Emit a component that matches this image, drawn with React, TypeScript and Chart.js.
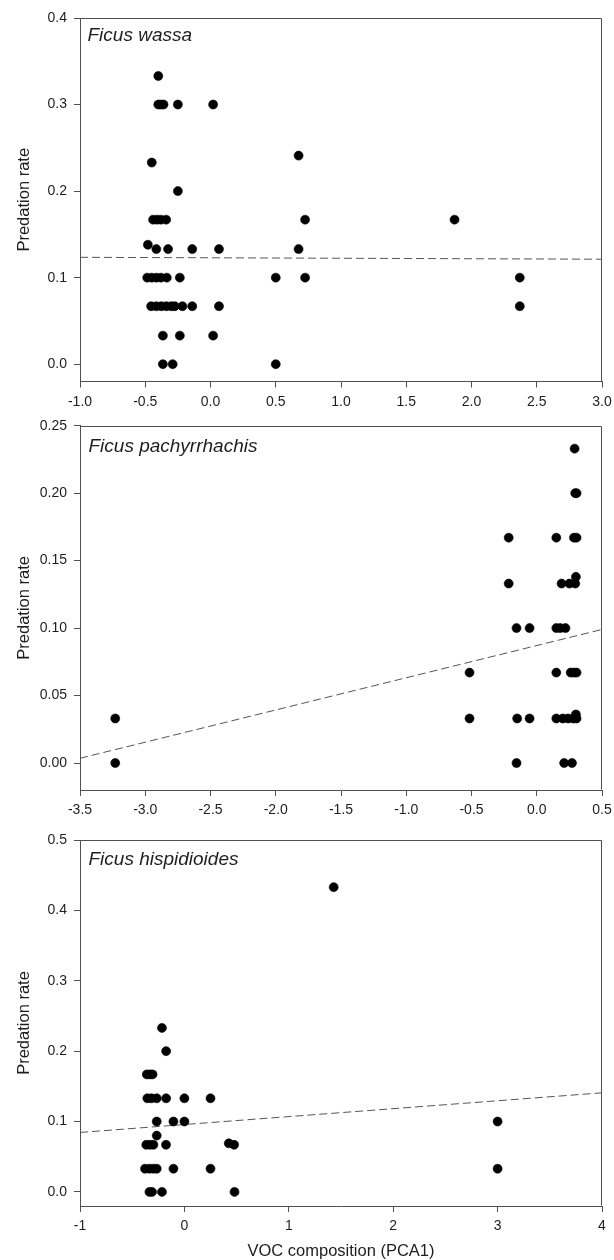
import React, { useEffect, useRef } from "react";
import { Chart, registerables } from "chart.js";
Chart.register(...registerables);

// ---------- data ----------
const speciesNames = ["Ficus wassa", "Ficus pachyrrhachis", "Ficus hispidioides"];
const xAxisTitle = "VOC composition (PCA1)";
const yAxisTitle = "Predation rate";

const wassaX = [
  -0.40,
  -0.40, -0.38, -0.36, -0.25, 0.02,
  -0.45,
  0.675,
  -0.25,
  -0.44, -0.41, -0.38, -0.34, 0.725, 1.87,
  -0.48,
  -0.415, -0.325, -0.14, 0.065, 0.675,
  -0.485, -0.45, -0.415, -0.38, -0.335, -0.235, 0.50, 0.725, 2.37,
  -0.455, -0.415, -0.377, -0.338, -0.30, -0.274, -0.215, -0.14, 0.065, 2.37,
  -0.365, -0.235, 0.02,
  -0.365, -0.29, 0.50,
];
const wassaY = [
  0.333,
  0.3, 0.3, 0.3, 0.3, 0.3,
  0.233,
  0.241,
  0.2,
  0.167, 0.167, 0.167, 0.167, 0.167, 0.167,
  0.138,
  0.133, 0.133, 0.133, 0.133, 0.133,
  0.1, 0.1, 0.1, 0.1, 0.1, 0.1, 0.1, 0.1, 0.1,
  0.067, 0.067, 0.067, 0.067, 0.067, 0.067, 0.067, 0.067, 0.067, 0.067,
  0.033, 0.033, 0.033,
  0, 0, 0,
];
const wassaFitX = [-1, 3];
const wassaFitY = [0.1235, 0.1213];
const wassaXTicks = [-1, -0.5, 0, 0.5, 1, 1.5, 2, 2.5, 3];
const wassaYTicks = [0, 0.1, 0.2, 0.3, 0.4];

const pachyX = [
  0.29,
  0.295, 0.305,
  -0.215, 0.15, 0.285, 0.305,
  0.30,
  -0.215, 0.19, 0.25, 0.295,
  -0.155, -0.055, 0.15, 0.18, 0.22,
  -0.515, 0.15, 0.26, 0.285, 0.305,
  0.30,
  -3.23, -0.515, -0.15, -0.055, 0.15, 0.20, 0.24, 0.28, 0.305,
  -3.23, -0.155, 0.21, 0.27,
];
const pachyY = [
  0.233,
  0.2, 0.2,
  0.167, 0.167, 0.167, 0.167,
  0.138,
  0.133, 0.133, 0.133, 0.133,
  0.1, 0.1, 0.1, 0.1, 0.1,
  0.067, 0.067, 0.067, 0.067, 0.067,
  0.036,
  0.033, 0.033, 0.033, 0.033, 0.033, 0.033, 0.033, 0.033, 0.033,
  0, 0, 0, 0,
];
const pachyFitX = [-3.5, 0.5];
const pachyFitY = [0.0035, 0.099];
const pachyXTicks = [-3.5, -3, -2.5, -2, -1.5, -1, -0.5, 0, 0.5];
const pachyYTicks = [0, 0.05, 0.1, 0.15, 0.2, 0.25];

const hispX = [
  1.43,
  -0.215,
  -0.175,
  -0.36, -0.33, -0.305,
  -0.355, -0.315, -0.265, -0.175, 0.0, 0.25,
  -0.265, -0.105, 0.0, 3.0,
  -0.265,
  0.425,
  -0.365, -0.33, -0.297, -0.176, 0.476,
  -0.377, -0.335, -0.297, -0.265, -0.105, 0.25, 3.0,
  -0.335, -0.31, -0.215, 0.48,
];
const hispY = [
  0.433,
  0.233,
  0.2,
  0.167, 0.167, 0.167,
  0.133, 0.133, 0.133, 0.133, 0.133, 0.133,
  0.1, 0.1, 0.1, 0.1,
  0.08,
  0.069,
  0.067, 0.067, 0.067, 0.067, 0.067,
  0.033, 0.033, 0.033, 0.033, 0.033, 0.033, 0.033,
  0, 0, 0, 0,
];
const hispFitX = [-1, 4];
const hispFitY = [0.0845, 0.1408];
const hispXTicks = [-1, 0, 1, 2, 3, 4];
const hispYTicks = [0, 0.1, 0.2, 0.3, 0.4, 0.5];

// ---------- layout / style ----------
const FONT = '"Liberation Sans", Arial, Helvetica, sans-serif';
const AXIS = "#505050";
const TEXT = "#1e1e1e";
const W = 614;

const panels = [
  {
    name: speciesNames[0], xs: wassaX, ys: wassaY, fx: wassaFitX, fy: wassaFitY,
    xTicks: wassaXTicks, yTicks: wassaYTicks, xMin: -1, xMax: 3, yMin: -0.02, yMax: 0.4,
    xDec: 1, yDec: 1, top: 0, height: 410, areaTop: 18, areaBottom: 381.5,
    labelDx: 7.5, labelDy: 22.5, showXTitle: false,
  },
  {
    name: speciesNames[1], xs: pachyX, ys: pachyY, fx: pachyFitX, fy: pachyFitY,
    xTicks: pachyXTicks, yTicks: pachyYTicks, xMin: -3.5, xMax: 0.5, yMin: -0.02, yMax: 0.25,
    xDec: 1, yDec: 2, top: 410, height: 420, areaTop: 15.7, areaBottom: 380,
    labelDx: 8.5, labelDy: 26.5, showXTitle: false,
  },
  {
    name: speciesNames[2], xs: hispX, ys: hispY, fx: hispFitX, fy: hispFitY,
    xTicks: hispXTicks, yTicks: hispYTicks, xMin: -1, xMax: 4, yMin: -0.02, yMax: 0.5,
    xDec: 0, yDec: 1, top: 830, height: 430, areaTop: 10, areaBottom: 376,
    labelDx: 8.5, labelDy: 25, showXTitle: true,
  },
];

const frameAndLabel = {
  id: "frameAndLabel",
  afterDraw(chart: any, _args: any, opts: any) {
    const { ctx, chartArea } = chart;
    const l = Math.round(chartArea.left) + 0.5;
    const t = Math.round(chartArea.top) + 0.5;
    const r = Math.round(chartArea.right) - 0.5;
    const b = Math.round(chartArea.bottom) - 0.5;
    ctx.save();
    ctx.strokeStyle = AXIS;
    ctx.lineWidth = 1;
    ctx.beginPath();
    ctx.moveTo(l, t);
    ctx.lineTo(r, t);
    ctx.lineTo(r, b);
    ctx.stroke();
    ctx.fillStyle = TEXT;
    ctx.font = `italic 19px ${FONT}`;
    ctx.textAlign = "left";
    ctx.textBaseline = "alphabetic";
    ctx.fillText(opts.text, chartArea.left + opts.dx, chartArea.top + opts.dy);
    ctx.restore();
  },
};

function Panel({ p }: { p: (typeof panels)[number] }) {
  const ref = useRef<HTMLCanvasElement>(null);
  useEffect(() => {
    if (!ref.current) return;
    const areaH = p.areaBottom - p.areaTop;
    const xAxisH = p.height - p.areaTop - areaH;
    const chart = new Chart(ref.current, {
      type: "scatter",
      data: {
        datasets: [
          {
            type: "scatter",
            data: p.xs.map((x, i) => ({ x, y: p.ys[i] })),
            pointRadius: 4.5,
            pointBackgroundColor: "#000",
            pointBorderColor: "#000",
            pointBorderWidth: 0.6,
          } as any,
          {
            type: "line",
            data: p.fx.map((x, i) => ({ x, y: p.fy[i] })),
            borderColor: "#555",
            borderWidth: 1,
            borderDash: [8, 4],
            pointRadius: 0,
            fill: false,
            tension: 0,
          } as any,
        ],
      },
      options: {
        animation: false,
        responsive: false,
        devicePixelRatio: 1,
        events: [],
        layout: { padding: { left: 0, right: 12, top: p.areaTop, bottom: 0 } },
        plugins: {
          legend: { display: false },
          tooltip: { enabled: false },
          frameAndLabel: { text: p.name, dx: p.labelDx, dy: p.labelDy },
        } as any,
        scales: {
          x: {
            type: "linear",
            min: p.xMin,
            max: p.xMax,
            afterBuildTicks: (s: any) => {
              s.ticks = p.xTicks.map((v) => ({ value: v }));
            },
            afterFit: (s: any) => {
              s.height = xAxisH;
              s.paddingLeft = 0;
              s.paddingRight = 0;
            },
            grid: { drawOnChartArea: false, drawTicks: true, tickLength: 6, color: AXIS, lineWidth: 1 },
            border: { display: true, color: AXIS, width: 1 },
            ticks: {
              padding: 6,
              color: TEXT,
              autoSkip: false,
              maxRotation: 0,
              minRotation: 0,
              font: { family: FONT, size: 14 },
              callback: (v: any) => Number(v).toFixed(p.xDec),
            },
            title: {
              display: p.showXTitle,
              text: xAxisTitle,
              color: TEXT,
              font: { family: FONT, size: 16.5, lineHeight: 1 },
              padding: { top: 0, bottom: 0 },
            },
          },
          y: {
            type: "linear",
            min: p.yMin,
            max: p.yMax,
            afterBuildTicks: (s: any) => {
              s.ticks = p.yTicks.map((v) => ({ value: v }));
            },
            afterFit: (s: any) => {
              s.width = 80;
              s.paddingTop = 0;
              s.paddingBottom = 0;
            },
            grid: { drawOnChartArea: false, drawTicks: true, tickLength: 6, color: AXIS, lineWidth: 1 },
            border: { display: true, color: AXIS, width: 1 },
            ticks: {
              padding: 7,
              color: TEXT,
              autoSkip: false,
              font: { family: FONT, size: 14 },
              callback: (v: any) => Number(v).toFixed(p.yDec),
            },
            title: {
              display: true,
              text: yAxisTitle,
              color: TEXT,
              font: { family: FONT, size: 16.5 },
              padding: { top: 15, bottom: 0 },
            },
          },
        },
      } as any,
      plugins: [frameAndLabel],
    });
    return () => chart.destroy();
  }, [p]);
  return (
    <canvas
      ref={ref}
      width={W}
      height={p.height}
      style={{ position: "absolute", left: 0, top: p.top, width: W, height: p.height, display: "block" }}
    />
  );
}

export default function App() {
  return (
    <div style={{ position: "absolute", left: 0, top: 0, width: W, height: 1260, background: "#fff", overflow: "hidden" }}>
      {panels.map((p) => (
        <Panel key={p.name} p={p} />
      ))}
    </div>
  );
}
